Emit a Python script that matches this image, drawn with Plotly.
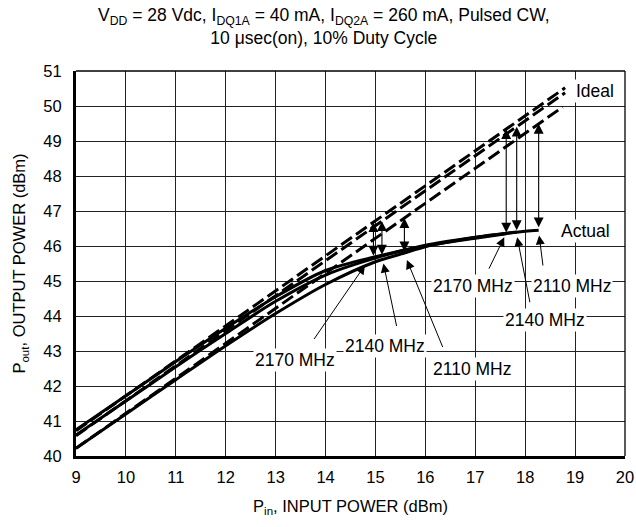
import plotly.graph_objects as go

# ---------------- data ----------------
pin_2110 = [9, 10, 11, 12, 13, 14, 15, 15.58, 16, 17, 18, 18.27]
pout_2110 = [40.22, 41.2, 42.18, 43.15, 44.07, 44.9, 45.55, 45.8, 45.98, 46.24, 46.42, 46.45]
pin_2140 = [9, 10, 11, 12, 13, 14, 15.13, 16, 17, 17.83]
pout_2140 = [40.6, 41.57, 42.55, 43.5, 44.42, 45.17, 45.71, 46.02, 46.25, 46.4]
pin_2170 = [9, 10, 11, 12, 13, 14, 14.96, 16, 17, 17.62]
pout_2170 = [40.75, 41.72, 42.7, 43.65, 44.55, 45.3, 45.68, 46.0, 46.22, 46.35]

freq_labels = ["2110 MHz", "2140 MHz", "2170 MHz"]
small_signal_gain = [31.22, 31.58, 31.72]      # dB, ideal (linear) lines
ideal_pin_start = [9, 9, 9]
ideal_pin_end = [18.75, 18.8, 18.8]
p1db_pin = [15.58, 15.13, 14.96]                # 1 dB compression input power
p3db_pin = [18.27, 17.83, 17.62]                # 3 dB compression input power
compression_db = [1, 3]

x_ticks = list(range(9, 21))
y_ticks = list(range(40, 52))

FONT = "Liberation Sans, Arial, sans-serif"

fig = go.Figure()

# ideal dashed lines
for i in range(3):
    xs = [ideal_pin_start[i], ideal_pin_end[i]]
    ys = [v + small_signal_gain[i] for v in xs]
    fig.add_trace(go.Scatter(x=xs, y=ys, mode="lines",
                             line=dict(color="black", width=3, dash="13px,5px"),
                             hoverinfo="skip", showlegend=False))

# actual curves
for xs, ys in [(pin_2110, pout_2110), (pin_2140, pout_2140), (pin_2170, pout_2170)]:
    fig.add_trace(go.Scatter(x=xs, y=ys, mode="lines",
                             line=dict(color="black", width=3, shape="spline", smoothing=0.8),
                             hoverinfo="skip", showlegend=False))

annotations = []
# compression arrows (double headed, between actual and ideal)
for pts, comp in [(p1db_pin, compression_db[0]), (p3db_pin, compression_db[1])]:
    for i in range(3):
        xi = pts[i]
        ideal = xi + small_signal_gain[i]
        actual = ideal - comp
        annotations.append(dict(x=xi, y=ideal, ax=xi, ay=actual, xref="x", yref="y",
                                axref="x", ayref="y", text="", showarrow=True,
                                arrowhead=2, arrowside="end+start", arrowsize=1.8,
                                arrowwidth=1.1, arrowcolor="black", standoff=0, startstandoff=0))

# frequency labels with leader lines: (text, label x, label y, tail x, tail y, tip x, tip y)
labels = [
    ("2170 MHz", 13.39, 42.75, 13.75, 43.3, 14.79, 45.45),
    ("2140 MHz", 15.19, 43.15, 15.43, 43.67, 15.16, 45.5),
    ("2110 MHz", 16.93, 42.5, 16.36, 43.07, 15.63, 45.6),
    ("2170 MHz", 16.96, 44.85, 17.26, 45.31, 17.58, 46.25),
    ("2140 MHz", 18.4, 43.88, 18.1, 44.35, 17.84, 46.25),
    ("2110 MHz", 18.93, 44.85, 18.36, 45.4, 18.28, 46.3),
]
for txt, lx, ly, tx, ty, hx, hy in labels:
    annotations.append(dict(x=hx, y=hy, ax=tx, ay=ty, xref="x", yref="y",
                            axref="x", ayref="y", text="", showarrow=True,
                            arrowhead=2, arrowsize=1.8, arrowwidth=1,
                            arrowcolor="black", standoff=0))
for txt, lx, ly, tx, ty, hx, hy in labels:
    annotations.append(dict(x=lx, y=ly, xref="x", yref="y", text=txt, showarrow=False,
                            bgcolor="white", borderpad=1,
                            font=dict(family=FONT, size=17.5, color="black")))

annotations.append(dict(x=19.2, y=46.43, xref="x", yref="y", text="Actual", showarrow=False,
                        bgcolor="white", font=dict(family=FONT, size=17.5, color="black")))
annotations.append(dict(x=19.4, y=50.43, xref="x", yref="y", text="Ideal", showarrow=False,
                        bgcolor="white", font=dict(family=FONT, size=17.5, color="black")))

# title (two lines)
annotations.append(dict(x=0.452, y=1.0, xref="paper", yref="paper", yanchor="bottom", yshift=21,
                        showarrow=False, align="center",
                        text="V<sub>DD</sub> = 28 Vdc, I<sub>DQ1A</sub> = 40 mA, I<sub>DQ2A</sub> = 260 mA, Pulsed CW,<br>10 \u03bcsec(on), 10% Duty Cycle",
                        font=dict(family=FONT, size=17.5, color="black")))

fig.update_layout(
    width=636, height=527,
    margin=dict(l=76, r=11, t=71, b=71, autoexpand=False),
    plot_bgcolor="white", paper_bgcolor="white",
    font=dict(family=FONT, size=16, color="black"),
    annotations=annotations,
    xaxis=dict(range=[9, 20], tickvals=x_ticks, ticktext=[str(v) for v in x_ticks],
               showgrid=True, gridcolor="#222", gridwidth=1.3,
               showline=True, linecolor="black", linewidth=3,
               ticks="", ticklabelstandoff=4, zeroline=False, automargin=False,
               tickfont=dict(family=FONT, size=16.5),
               title=dict(text="P<sub>in</sub>, INPUT POWER (dBm)", standoff=16,
                          font=dict(family=FONT, size=16.5))),
    yaxis=dict(range=[40, 51], tickvals=y_ticks, ticktext=[str(v) for v in y_ticks],
               showgrid=True, gridcolor="#222", gridwidth=1.3,
               showline=True, linecolor="black", linewidth=3,
               ticks="", ticklabelstandoff=8, zeroline=False, automargin=False,
               tickfont=dict(family=FONT, size=16.5),
               title=dict(text="P<sub>out</sub>, OUTPUT POWER (dBm)", standoff=14,
                          font=dict(family=FONT, size=16.5))),
    shapes=[
        dict(type="line", xref="x domain", yref="y domain", x0=0, x1=1, y0=1, y1=1,
             line=dict(color="black", width=1.3)),
        dict(type="line", xref="x domain", yref="y domain", x0=1, x1=1, y0=0, y1=1,
             line=dict(color="black", width=1.3)),
    ],
)

# remove the default 8px page margin so the figure fills the window exactly
fig.write_html("out.html", config={"displayModeBar": False},
               post_script="document.body.style.margin='0';document.body.style.overflow='hidden';")
